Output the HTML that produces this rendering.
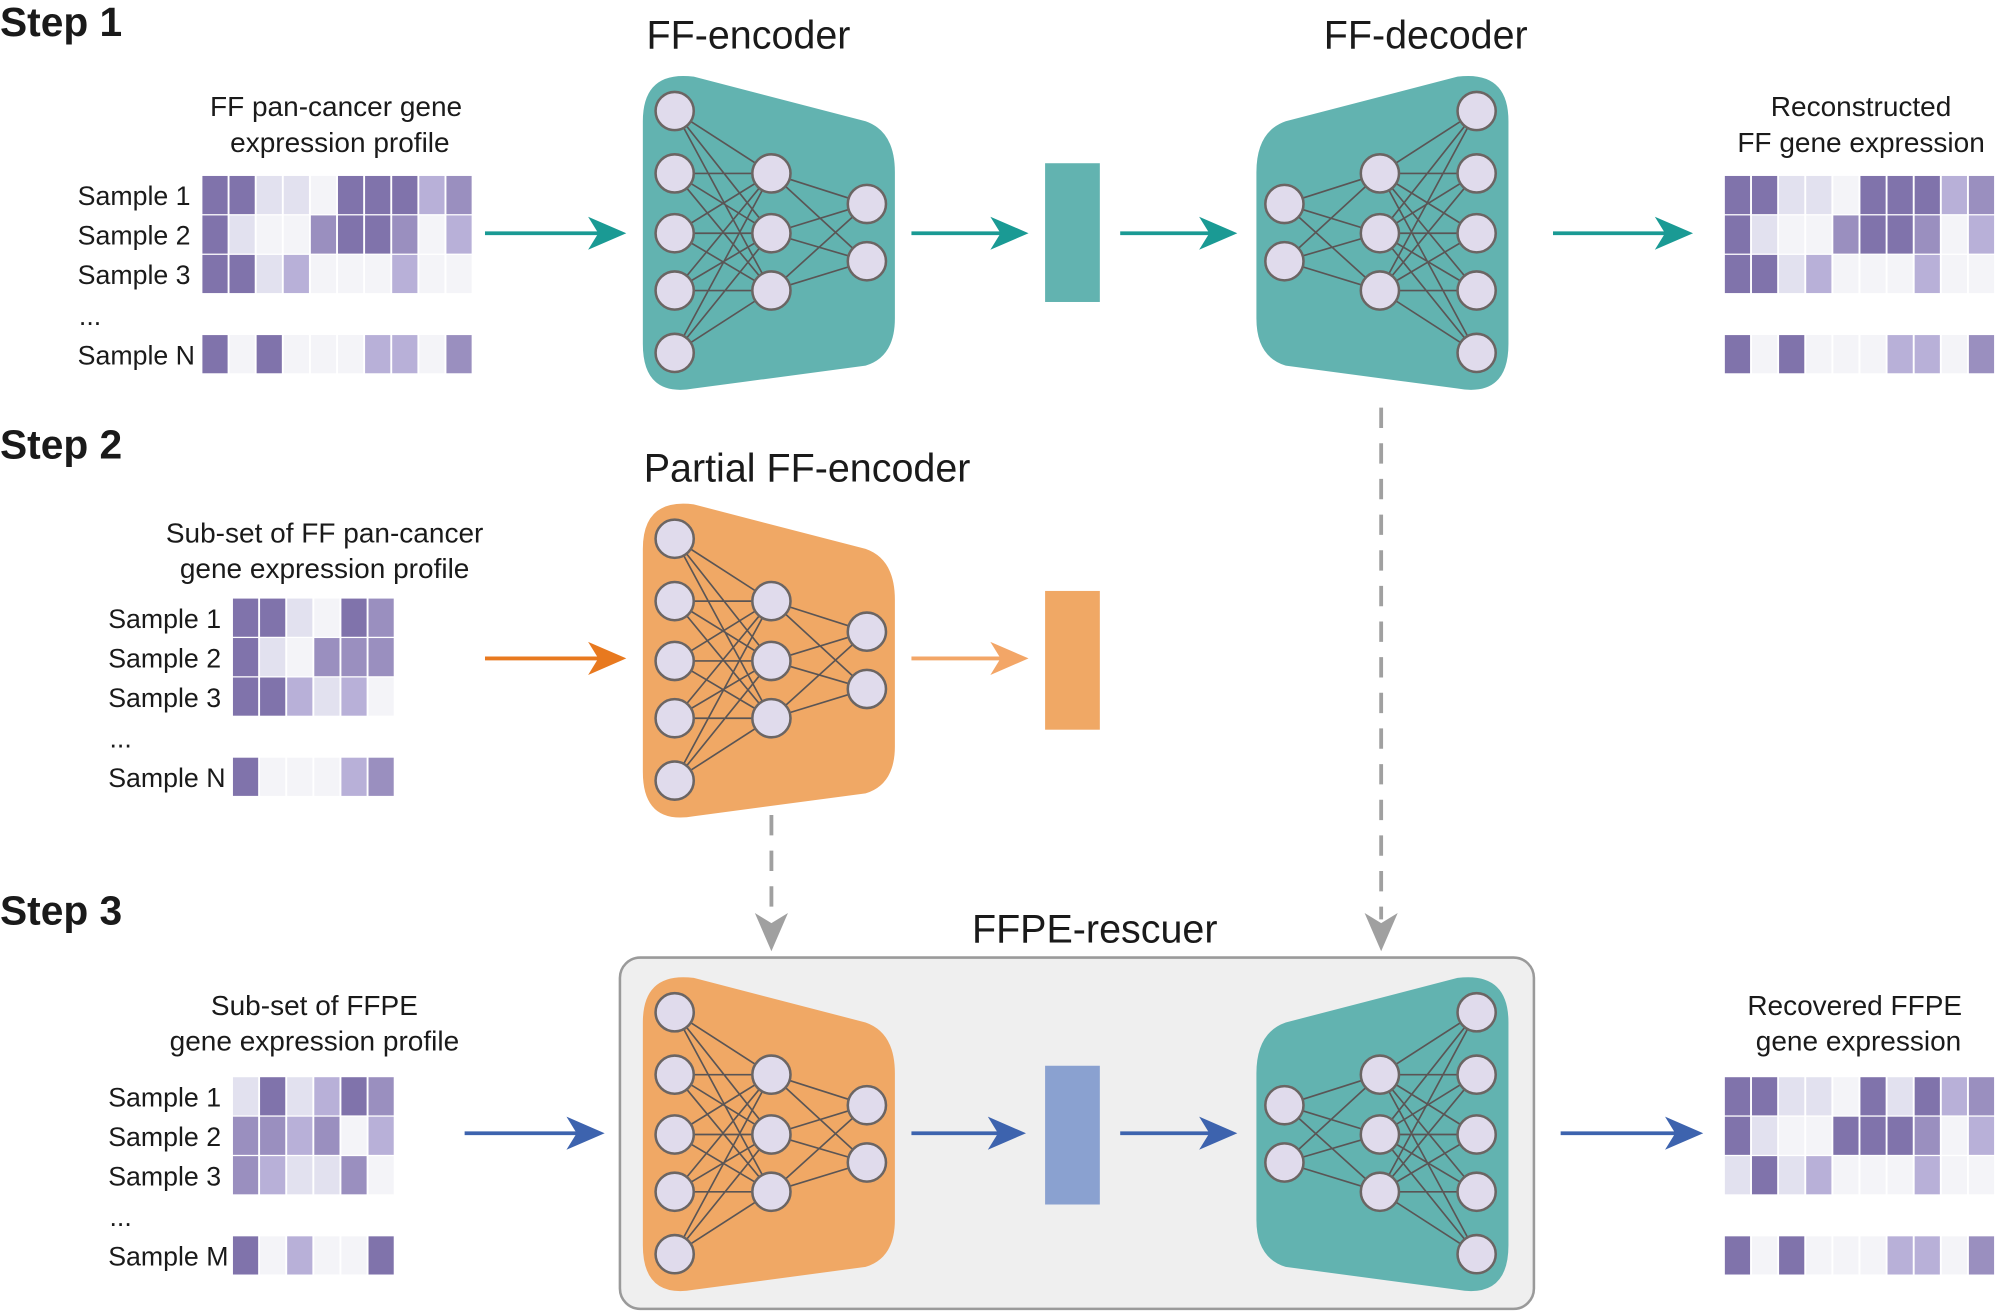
<!DOCTYPE html>
<html><head><style>html,body{margin:0;padding:0;background:#fff}svg{display:block}
.D{fill:#8073ab}.M{fill:#9a8fbf}.L{fill:#b8b0d8}.V{fill:#e2e1ef}.W{fill:#f4f4f8}
</style></head><body>
<svg width="1996" height="1313" viewBox="0 0 1568 1031" xmlns="http://www.w3.org/2000/svg" xmlns:xlink="http://www.w3.org/1999/xlink" font-family="Liberation Sans, Arial, sans-serif">
<defs>
<g id="enc">
<path d="M505,95 Q505,55 545,60 L680,95 Q703,103 703,135 L703,250 Q703,280 680,287 L545,305 Q505,312 505,270 Z"/>
<g stroke="#5a5555" stroke-width="1.3">
<path d="M530,87L606,136M530,87L606,183M530,87L606,228M530,136L606,136M530,136L606,183M530,136L606,228M530,183L606,136M530,183L606,183M530,183L606,228M530,228L606,136M530,228L606,183M530,228L606,228M530,277L606,136M530,277L606,183M530,277L606,228M606,136L681,160M606,136L681,205M606,183L681,160M606,183L681,205M606,228L681,160M606,228L681,205"/>
</g>
<g fill="#e0dbec" stroke="#6b6563" stroke-width="2">
<circle cx="530" cy="87" r="15"/><circle cx="530" cy="136" r="15"/><circle cx="530" cy="183" r="15"/><circle cx="530" cy="228" r="15"/><circle cx="530" cy="277" r="15"/>
<circle cx="606" cy="136" r="15"/><circle cx="606" cy="183" r="15"/><circle cx="606" cy="228" r="15"/>
<circle cx="681" cy="160" r="15"/><circle cx="681" cy="205" r="15"/>
</g>
</g>
<g id="h1">
<g transform="translate(159,138)"><rect class="D" x="0" width="19.8" height="30"/><rect class="D" x="21.3" width="19.8" height="30"/><rect class="V" x="42.6" width="19.8" height="30"/><rect class="V" x="63.9" width="19.8" height="30"/><rect class="W" x="85.2" width="19.8" height="30"/><rect class="D" x="106.5" width="19.8" height="30"/><rect class="D" x="127.8" width="19.8" height="30"/><rect class="D" x="149.1" width="19.8" height="30"/><rect class="L" x="170.4" width="19.8" height="30"/><rect class="M" x="191.7" width="19.8" height="30"/></g>
<g transform="translate(159,169)"><rect class="D" x="0" width="19.8" height="30"/><rect class="V" x="21.3" width="19.8" height="30"/><rect class="W" x="42.6" width="19.8" height="30"/><rect class="W" x="63.9" width="19.8" height="30"/><rect class="M" x="85.2" width="19.8" height="30"/><rect class="D" x="106.5" width="19.8" height="30"/><rect class="D" x="127.8" width="19.8" height="30"/><rect class="M" x="149.1" width="19.8" height="30"/><rect class="W" x="170.4" width="19.8" height="30"/><rect class="L" x="191.7" width="19.8" height="30"/></g>
<g transform="translate(159,200)"><rect class="D" x="0" width="19.8" height="30"/><rect class="D" x="21.3" width="19.8" height="30"/><rect class="V" x="42.6" width="19.8" height="30"/><rect class="L" x="63.9" width="19.8" height="30"/><rect class="W" x="85.2" width="19.8" height="30"/><rect class="W" x="106.5" width="19.8" height="30"/><rect class="W" x="127.8" width="19.8" height="30"/><rect class="L" x="149.1" width="19.8" height="30"/><rect class="W" x="170.4" width="19.8" height="30"/><rect class="W" x="191.7" width="19.8" height="30"/></g>
<g transform="translate(159,263)"><rect class="D" x="0" width="19.8" height="30"/><rect class="W" x="21.3" width="19.8" height="30"/><rect class="D" x="42.6" width="19.8" height="30"/><rect class="W" x="63.9" width="19.8" height="30"/><rect class="W" x="85.2" width="19.8" height="30"/><rect class="W" x="106.5" width="19.8" height="30"/><rect class="L" x="127.8" width="19.8" height="30"/><rect class="L" x="149.1" width="19.8" height="30"/><rect class="W" x="170.4" width="19.8" height="30"/><rect class="M" x="191.7" width="19.8" height="30"/></g>
</g>
</defs>
<rect width="1568" height="1031" fill="#fff"/>

<g font-weight="bold" font-size="32" fill="#1a1a1a">
<text x="0" y="28">Step 1</text><text x="0" y="360">Step 2</text><text x="0" y="726">Step 3</text>
</g>
<g font-size="31" fill="#1a1a1a" text-anchor="middle">
<text x="588" y="38">FF-encoder</text><text x="1120" y="38">FF-decoder</text>
<text x="634" y="378">Partial FF-encoder</text><text x="860" y="740">FFPE-rescuer</text>
</g>
<g font-size="22" fill="#1a1a1a" text-anchor="middle">
<text x="264" y="91">FF pan-cancer gene</text><text x="267" y="119">expression profile</text>
<text x="1462" y="91">Reconstructed</text><text x="1462" y="119">FF gene expression</text>
<text x="255" y="426">Sub-set of FF pan-cancer</text><text x="255" y="454">gene expression profile</text>
<text x="247" y="797">Sub-set of FFPE</text><text x="247" y="825">gene expression profile</text>
<text x="1457" y="797">Recovered FFPE</text><text x="1460" y="825">gene expression</text>
</g>
<g font-size="21" fill="#1a1a1a">
<text x="61" y="161">Sample 1</text><text x="61" y="192">Sample 2</text><text x="61" y="223">Sample 3</text><text x="62" y="255">...</text><text x="61" y="286">Sample N</text>
<text x="85" y="493">Sample 1</text><text x="85" y="524">Sample 2</text><text x="85" y="555">Sample 3</text><text x="86" y="587">...</text><text x="85" y="618">Sample N</text>
<text x="85" y="869">Sample 1</text><text x="85" y="900">Sample 2</text><text x="85" y="931">Sample 3</text><text x="86" y="963">...</text><text x="85" y="994">Sample M</text>
</g>

<use href="#h1" xlink:href="#h1"/>
<use href="#h1" xlink:href="#h1" transform="translate(1196,0)"/>

<g transform="translate(183,470)"><rect class="D" x="0" width="19.8" height="30"/><rect class="D" x="21.3" width="19.8" height="30"/><rect class="V" x="42.6" width="19.8" height="30"/><rect class="W" x="63.9" width="19.8" height="30"/><rect class="D" x="85.2" width="19.8" height="30"/><rect class="M" x="106.5" width="19.8" height="30"/></g>
<g transform="translate(183,501)"><rect class="D" x="0" width="19.8" height="30"/><rect class="V" x="21.3" width="19.8" height="30"/><rect class="W" x="42.6" width="19.8" height="30"/><rect class="M" x="63.9" width="19.8" height="30"/><rect class="M" x="85.2" width="19.8" height="30"/><rect class="M" x="106.5" width="19.8" height="30"/></g>
<g transform="translate(183,532)"><rect class="D" x="0" width="19.8" height="30"/><rect class="D" x="21.3" width="19.8" height="30"/><rect class="L" x="42.6" width="19.8" height="30"/><rect class="V" x="63.9" width="19.8" height="30"/><rect class="L" x="85.2" width="19.8" height="30"/><rect class="W" x="106.5" width="19.8" height="30"/></g>
<g transform="translate(183,595)"><rect class="D" x="0" width="19.8" height="30"/><rect class="W" x="21.3" width="19.8" height="30"/><rect class="W" x="42.6" width="19.8" height="30"/><rect class="W" x="63.9" width="19.8" height="30"/><rect class="L" x="85.2" width="19.8" height="30"/><rect class="M" x="106.5" width="19.8" height="30"/></g>

<g transform="translate(183,846)"><rect class="V" x="0" width="19.8" height="30"/><rect class="D" x="21.3" width="19.8" height="30"/><rect class="V" x="42.6" width="19.8" height="30"/><rect class="L" x="63.9" width="19.8" height="30"/><rect class="D" x="85.2" width="19.8" height="30"/><rect class="M" x="106.5" width="19.8" height="30"/></g>
<g transform="translate(183,877)"><rect class="M" x="0" width="19.8" height="30"/><rect class="M" x="21.3" width="19.8" height="30"/><rect class="L" x="42.6" width="19.8" height="30"/><rect class="M" x="63.9" width="19.8" height="30"/><rect class="W" x="85.2" width="19.8" height="30"/><rect class="L" x="106.5" width="19.8" height="30"/></g>
<g transform="translate(183,908)"><rect class="M" x="0" width="19.8" height="30"/><rect class="L" x="21.3" width="19.8" height="30"/><rect class="V" x="42.6" width="19.8" height="30"/><rect class="V" x="63.9" width="19.8" height="30"/><rect class="M" x="85.2" width="19.8" height="30"/><rect class="W" x="106.5" width="19.8" height="30"/></g>
<g transform="translate(183,971)"><rect class="D" x="0" width="19.8" height="30"/><rect class="W" x="21.3" width="19.8" height="30"/><rect class="L" x="42.6" width="19.8" height="30"/><rect class="W" x="63.9" width="19.8" height="30"/><rect class="W" x="85.2" width="19.8" height="30"/><rect class="D" x="106.5" width="19.8" height="30"/></g>

<g transform="translate(1355,846)"><rect class="D" x="0" width="19.8" height="30"/><rect class="D" x="21.3" width="19.8" height="30"/><rect class="V" x="42.6" width="19.8" height="30"/><rect class="V" x="63.9" width="19.8" height="30"/><rect class="W" x="85.2" width="19.8" height="30"/><rect class="D" x="106.5" width="19.8" height="30"/><rect class="V" x="127.8" width="19.8" height="30"/><rect class="D" x="149.1" width="19.8" height="30"/><rect class="L" x="170.4" width="19.8" height="30"/><rect class="M" x="191.7" width="19.8" height="30"/></g>
<g transform="translate(1355,877)"><rect class="D" x="0" width="19.8" height="30"/><rect class="V" x="21.3" width="19.8" height="30"/><rect class="W" x="42.6" width="19.8" height="30"/><rect class="W" x="63.9" width="19.8" height="30"/><rect class="D" x="85.2" width="19.8" height="30"/><rect class="D" x="106.5" width="19.8" height="30"/><rect class="D" x="127.8" width="19.8" height="30"/><rect class="M" x="149.1" width="19.8" height="30"/><rect class="W" x="170.4" width="19.8" height="30"/><rect class="L" x="191.7" width="19.8" height="30"/></g>
<g transform="translate(1355,908)"><rect class="V" x="0" width="19.8" height="30"/><rect class="D" x="21.3" width="19.8" height="30"/><rect class="V" x="42.6" width="19.8" height="30"/><rect class="L" x="63.9" width="19.8" height="30"/><rect class="W" x="85.2" width="19.8" height="30"/><rect class="W" x="106.5" width="19.8" height="30"/><rect class="W" x="127.8" width="19.8" height="30"/><rect class="L" x="149.1" width="19.8" height="30"/><rect class="W" x="170.4" width="19.8" height="30"/><rect class="W" x="191.7" width="19.8" height="30"/></g>
<g transform="translate(1355,971)"><rect class="D" x="0" width="19.8" height="30"/><rect class="W" x="21.3" width="19.8" height="30"/><rect class="D" x="42.6" width="19.8" height="30"/><rect class="W" x="63.9" width="19.8" height="30"/><rect class="W" x="85.2" width="19.8" height="30"/><rect class="W" x="106.5" width="19.8" height="30"/><rect class="L" x="127.8" width="19.8" height="30"/><rect class="L" x="149.1" width="19.8" height="30"/><rect class="W" x="170.4" width="19.8" height="30"/><rect class="M" x="191.7" width="19.8" height="30"/></g>

<rect x="487" y="752" width="718" height="276" rx="16" fill="#efefef" stroke="#9a9a9a" stroke-width="2"/>

<use href="#enc" xlink:href="#enc" fill="#62b3b0"/>
<use href="#enc" xlink:href="#enc" fill="#62b3b0" transform="translate(1690,0) scale(-1,1)"/>
<use href="#enc" xlink:href="#enc" fill="#f0a865" transform="translate(0,336)"/>
<use href="#enc" xlink:href="#enc" fill="#f0a865" transform="translate(0,708)"/>
<use href="#enc" xlink:href="#enc" fill="#62b3b0" transform="translate(1690,708) scale(-1,1)"/>

<rect x="821" y="128" width="43" height="109" fill="#62b3b0"/>
<rect x="821" y="464" width="43" height="109" fill="#f0a865"/>
<rect x="821" y="837" width="43" height="109" fill="#8aa1d0"/>

<g stroke-width="3" fill="none">
<g stroke="#1a9a94"><path d="M381,183H480M716,183H796M880,183H960M1220,183H1318"/></g>
<path stroke="#e8791f" d="M381,517H480"/><path stroke="#f3a667" d="M716,517H796"/>
<g stroke="#3d63ae"><path d="M365,890H463M716,890H794M880,890H960M1226,890H1326"/></g>
<g stroke="#a0a0a0" stroke-dasharray="16,12"><path d="M1085,320V722M606,640V722"/></g>
</g>
<g>
<g fill="#1a9a94"><path d="M492,183l-30,-13l8,13l-8,13z"/><path d="M808,183l-30,-13l8,13l-8,13z"/><path d="M972,183l-30,-13l8,13l-8,13z"/><path d="M1330,183l-30,-13l8,13l-8,13z"/></g>
<path fill="#e8791f" d="M492,517l-30,-13l8,13l-8,13z"/><path fill="#f3a667" d="M808,517l-30,-13l8,13l-8,13z"/>
<g fill="#3d63ae"><path d="M475,890l-30,-13l8,13l-8,13z"/><path d="M806,890l-30,-13l8,13l-8,13z"/><path d="M972,890l-30,-13l8,13l-8,13z"/><path d="M1338,890l-30,-13l8,13l-8,13z"/></g>
<g fill="#a0a0a0"><path d="M1085,747l-13,-30l13,8l13,-8z"/><path d="M606,747l-13,-30l13,8l13,-8z"/></g>
</g>
</svg>
</body></html>
